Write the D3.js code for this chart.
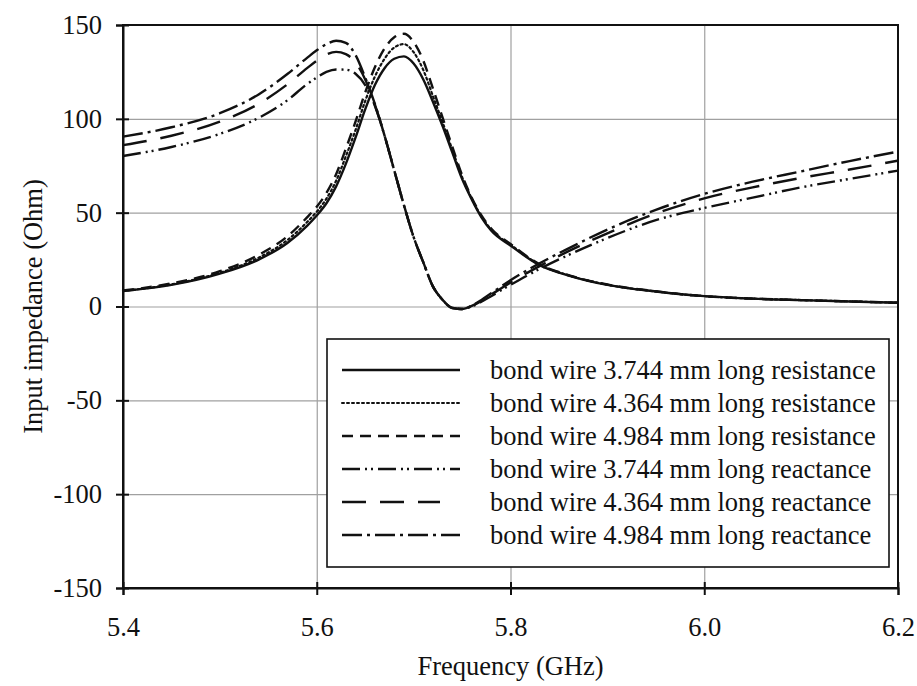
<!DOCTYPE html>
<html>
<head>
<meta charset="utf-8">
<script src="https://cdn.jsdelivr.net/npm/d3@7"></script>
<style>
  body { margin: 0; background: #fff; }
  svg text { font-family: "Liberation Serif", "Times New Roman", serif; fill: #111; }
</style>
</head>
<body>
<svg id="chart" width="917" height="686"></svg>
<script>
const freq = [5.40, 5.45, 5.50, 5.54, 5.57, 5.59, 5.60, 5.61, 5.62, 5.63, 5.64, 5.65, 5.66, 5.67, 5.68, 5.69, 5.70, 5.71, 5.72, 5.73, 5.74, 5.75, 5.76, 5.77, 5.78, 5.80, 5.83, 5.86, 5.90, 5.95, 6.00, 6.05, 6.10, 6.15, 6.20];

const res3744 = [8.2, 11.5, 17.5, 25, 34, 43, 48.5, 55, 64, 76, 90, 105, 118, 127, 132, 133.3, 129.5, 121, 109, 96, 82, 68, 57, 47.5, 40.5, 32.5, 22, 16.5, 11.5, 8, 5.5, 4.2, 3.4, 2.7, 2];
const res4364 = [8.3, 11.8, 18, 26, 35.5, 45, 50.5, 57.5, 67, 80, 94, 109.5, 122.5, 132, 138, 139.8, 135.5, 126, 112, 98, 83.5, 69, 57.5, 48, 41, 33, 22.3, 16.6, 11.6, 8, 5.5, 4.2, 3.4, 2.7, 2];
const res4984 = [8.5, 12.3, 18.8, 27.5, 37.5, 47.5, 53.2, 60.5, 70.5, 84, 98.5, 114, 127.5, 137.5, 143.5, 145.3, 141, 131, 116, 100.5, 85, 70, 58, 48.5, 41.5, 33.3, 22.5, 16.7, 11.7, 8.1, 5.5, 4.2, 3.4, 2.7, 2];
const rea3744 = [80.2, 85, 92, 100.5, 110, 118.5, 122, 125, 126.3, 126.2, 124, 118, 107, 91, 72.5, 54, 37, 23.5, 10.6, 3.5, -0.8, -1.3, 0, 2.5, 5.5, 11.5, 20, 27.5, 36.5, 46, 52.5, 58, 63.5, 68, 72.4];
const rea4364 = [86, 91, 98.5, 108, 118.5, 127, 131, 134.3, 135.7, 134.5, 130, 121, 107.5, 91, 72.5, 54, 37, 23.5, 10.6, 3.5, -0.8, -1.3, 0.3, 3, 6.3, 12.8, 21.5, 29.5, 39, 49.5, 57.6, 63.5, 68.5, 73, 77.7];
const rea4984 = [90.5, 95.5, 103, 113, 124, 132.5, 136.5, 139.8, 141.6, 140.5, 134, 122, 108, 91, 72.5, 54, 37, 23.5, 10.6, 3.5, -0.8, -1.3, 0.5, 3.5, 7, 14, 23, 31, 41, 51.5, 60, 66.5, 72, 77.5, 82.5];

const xTicks = [5.4, 5.6, 5.8, 6.0, 6.2];
const yTicks = [-150, -100, -50, 0, 50, 100, 150];

const seriesNames = [
  "bond wire 3.744 mm long resistance",
  "bond wire 4.364 mm long resistance",
  "bond wire 4.984 mm long resistance",
  "bond wire 3.744 mm long reactance",
  "bond wire 4.364 mm long reactance",
  "bond wire 4.984 mm long reactance"
];
const seriesValues = [res3744, res4364, res4984, rea3744, rea4364, rea4984];
const dashes = [null, "2,3", "11,7", "18,5,2,4,2,5", "24,14", "20,5,3,5"];

const svg = d3.select("#chart");
const mLeft = 123, mRight = 898, mTop = 25, mBottom = 588;
const fontSize = 26.5;

const x = d3.scaleLinear().domain([5.4, 6.2]).range([mLeft, mRight]);
const y = d3.scaleLinear().domain([-150, 150]).range([mBottom, mTop]);

// grid
svg.append("g")
  .attr("transform", `translate(0,${mBottom})`)
  .call(d3.axisBottom(x).tickValues(xTicks.slice(1, -1)).tickSize(-(mBottom - mTop)).tickFormat(""))
  .call(g => g.select(".domain").remove())
  .selectAll("line").attr("stroke", "#a0a0a0").attr("stroke-width", 1.2);

svg.append("g")
  .attr("transform", `translate(${mLeft},0)`)
  .call(d3.axisLeft(y).tickValues(yTicks.slice(1, -1)).tickSize(-(mRight - mLeft)).tickFormat(""))
  .call(g => g.select(".domain").remove())
  .selectAll("line").attr("stroke", "#a0a0a0").attr("stroke-width", 1.2);

// frame
svg.append("rect")
  .attr("x", mLeft).attr("y", mTop)
  .attr("width", mRight - mLeft).attr("height", mBottom - mTop)
  .attr("fill", "none").attr("stroke", "#111").attr("stroke-width", 2);

// axes with crossing ticks
const xAxis = svg.append("g")
  .attr("transform", `translate(0,${mBottom})`)
  .call(d3.axisBottom(x).tickValues(xTicks).tickFormat(d3.format(".1f")).tickSize(7).tickPadding(22));
xAxis.select(".domain").attr("stroke", "#111").attr("stroke-width", 2);
xAxis.selectAll("line").attr("y1", -6).attr("stroke", "#111").attr("stroke-width", 2);
xAxis.selectAll("text").attr("font-size", fontSize).attr("font-family", "Liberation Serif");

const yAxis = svg.append("g")
  .attr("transform", `translate(${mLeft},0)`)
  .call(d3.axisLeft(y).tickValues(yTicks).tickFormat(d => String(d)).tickSize(7).tickPadding(14));
yAxis.select(".domain").attr("stroke", "#111").attr("stroke-width", 2);
yAxis.selectAll("line").attr("x1", 6).attr("stroke", "#111").attr("stroke-width", 2);
yAxis.selectAll("text").attr("font-size", fontSize).attr("font-family", "Liberation Serif");

// curves
const line = d3.line()
  .x((d, i) => x(freq[i]))
  .y(d => y(d))
  .curve(d3.curveMonotoneX);

seriesValues.forEach((vals, k) => {
  svg.append("path")
    .datum(vals)
    .attr("fill", "none")
    .attr("stroke", "#111")
    .attr("stroke-width", k === 1 ? 2.2 : 2.4)
    .attr("stroke-linecap", k === 1 ? "round" : "butt")
    .attr("stroke-dasharray", dashes[k])
    .attr("d", line);
});

// legend
const legend = svg.append("g");
legend.append("rect")
  .attr("x", 327).attr("y", 339)
  .attr("width", 562).attr("height", 228)
  .attr("fill", "#fff").attr("stroke", "#111").attr("stroke-width", 1.6);

seriesNames.forEach((name, k) => {
  const yy = 370 + k * 33;
  legend.append("line")
    .attr("x1", 342).attr("x2", k === 4 ? 440 : 460)
    .attr("y1", yy).attr("y2", yy)
    .attr("stroke", "#111")
    .attr("stroke-width", k === 1 ? 2 : 2.4)
    .attr("stroke-linecap", k === 1 ? "round" : "butt")
    .attr("stroke-dasharray", dashes[k]);
  legend.append("text")
    .attr("x", 490).attr("y", yy + 9)
    .attr("font-size", fontSize)
    .text(name);
});

// titles
svg.append("text")
  .attr("x", (mLeft + mRight) / 2).attr("y", 675)
  .attr("text-anchor", "middle")
  .attr("font-size", fontSize)
  .text("Frequency (GHz)");

svg.append("text")
  .attr("transform", `translate(42,${(mTop + mBottom) / 2}) rotate(-90)`)
  .attr("text-anchor", "middle")
  .attr("font-size", fontSize)
  .text("Input impedance (Ohm)");
</script>
</body>
</html>
